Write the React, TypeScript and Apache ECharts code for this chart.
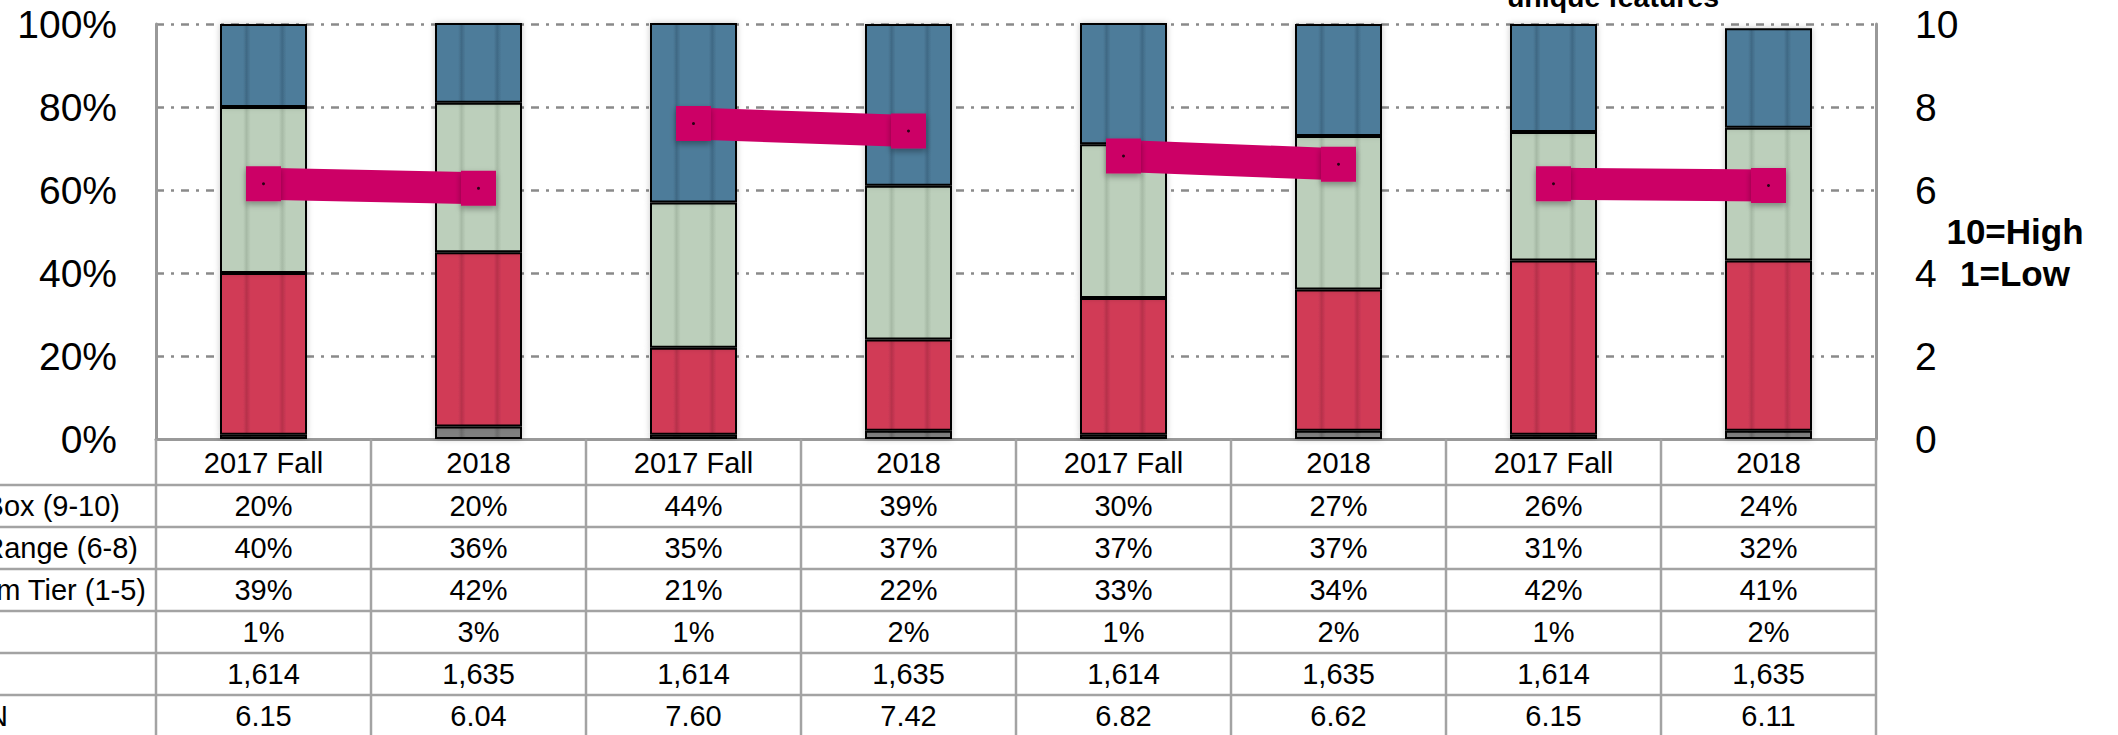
import React, { useEffect, useRef } from "react";
import * as echarts from "echarts";

// ---------- data ----------
const categories = ["2017 Fall", "2018", "2017 Fall", "2018", "2017 Fall", "2018", "2017 Fall", "2018"];
const boxTop = [20, 20, 44, 39, 30, 27, 26, 24];
const midRange = [40, 36, 35, 37, 37, 37, 31, 32];
const bottomTier = [39, 42, 21, 22, 33, 34, 42, 41];
const dontKnow = [1, 3, 1, 2, 1, 2, 1, 2];
const sampleN = [1614, 1635, 1614, 1635, 1614, 1635, 1614, 1635];
const meanScore = [6.15, 6.04, 7.6, 7.42, 6.82, 6.62, 6.15, 6.11];
const rowLabels = ["Box (9-10)", "Range (6-8)", "m Tier (1-5)", "", "", "N"];
const leftTicks = { min: 0, max: 100, step: 20 };
const rightTicks = { min: 0, max: 10, step: 2 };
const scaleNotes = ["10=High", "1=Low"];
const titleTail = "unique features";

// ---------- layout ----------
const W = 2118;
const H = 735;
const GRID_LEFT = 156;
const GRID_RIGHT_X = 1876;
const GRID_TOP = 24;
const GRID_BOTTOM_Y = 439;
const HEADER_BOTTOM = 485;
const ROW_H = 42;
const LABEL_RIGHT = [120, 138, 146, 0, 0, 8];
const FONT = "'Liberation Sans', Arial, Helvetica, sans-serif";
const TABLE_LINE = "#a3a3a3";

function striped(base: string, dark: string) {
  return new echarts.graphic.LinearGradient(0, 0, 1, 0, [
    { offset: 0, color: base },
    { offset: 0.26, color: base },
    { offset: 0.3, color: dark },
    { offset: 0.35, color: base },
    { offset: 0.68, color: base },
    { offset: 0.72, color: dark },
    { offset: 0.77, color: base },
    { offset: 1, color: base },
  ]);
}

function barSeries(name: string, data: number[], base: string, dark: string) {
  return {
    name,
    type: "bar",
    stack: "total",
    barWidth: 87,
    data,
    clip: true,
    itemStyle: {
      color: striped(base, dark),
      borderColor: "#000",
      borderWidth: 2,
      shadowBlur: 6,
      shadowColor: "rgba(0,0,0,0.22)",
    },
    z: 2,
  };
}

export default function App() {
  const ref = useRef<HTMLDivElement>(null);

  useEffect(() => {
    document.body.style.margin = "0";
    if (!ref.current) return;
    const chart = echarts.init(ref.current, null, { renderer: "svg" });

    const nCols = categories.length;
    const colW = (GRID_RIGHT_X - GRID_LEFT) / nCols;
    const colX = (i: number) => GRID_LEFT + i * colW;

    const pct = (v: number) => `${v}%`;
    const rows: string[][] = [
      boxTop.map(pct),
      midRange.map(pct),
      bottomTier.map(pct),
      dontKnow.map(pct),
      sampleN.map((v) => v.toLocaleString("en-US")),
      meanScore.map((v) => v.toFixed(2)),
    ];

    const graphics: any[] = [];
    for (let r = 0; r < rows.length; r++) {
      const y = HEADER_BOTTOM + r * ROW_H;
      graphics.push({
        type: "line",
        shape: { x1: 0, y1: y, x2: GRID_RIGHT_X, y2: y },
        style: { stroke: TABLE_LINE, lineWidth: 2.5 },
        z: 10,
      });
    }
    for (let i = 0; i <= nCols; i++) {
      graphics.push({
        type: "line",
        shape: { x1: colX(i), y1: GRID_BOTTOM_Y, x2: colX(i), y2: H },
        style: { stroke: TABLE_LINE, lineWidth: 2.5 },
        z: 10,
      });
    }
    rows.forEach((vals, r) => {
      const cy = HEADER_BOTTOM + r * ROW_H + ROW_H / 2;
      vals.forEach((t, i) => {
        graphics.push({
          type: "text",
          x: colX(i) + colW / 2,
          y: cy,
          style: { text: t, fill: "#000", font: `29px ${FONT}`, align: "center", verticalAlign: "middle" },
          z: 11,
        });
      });
      if (rowLabels[r]) {
        graphics.push({
          type: "text",
          x: LABEL_RIGHT[r],
          y: cy,
          style: { text: rowLabels[r], fill: "#000", font: `29px ${FONT}`, align: "right", verticalAlign: "middle" },
          z: 11,
        });
      }
    });
    graphics.push({
      type: "text",
      x: 2015,
      y: 231,
      style: { text: scaleNotes[0], fill: "#000", font: `bold 35px ${FONT}`, align: "center", verticalAlign: "middle" },
    });
    graphics.push({
      type: "text",
      x: 2015,
      y: 273,
      style: { text: scaleNotes[1], fill: "#000", font: `bold 35px ${FONT}`, align: "center", verticalAlign: "middle" },
    });
    graphics.push({
      type: "text",
      x: 1613,
      y: -3,
      style: { text: titleTail, fill: "#000", font: `bold 28.5px ${FONT}`, align: "center", verticalAlign: "middle" },
    });

    const lineSeries: any[] = [];
    for (let g = 0; g < nCols / 2; g++) {
      lineSeries.push({
        type: "line",
        yAxisIndex: 1,
        data: [
          [2 * g, meanScore[2 * g]],
          [2 * g + 1, meanScore[2 * g + 1]],
        ],
        symbol: "rect",
        symbolSize: 35,
        lineStyle: { color: "#CC0066", width: 32, cap: "butt" },
        itemStyle: {
          color: "#CC0066",
          shadowBlur: 6,
          shadowOffsetY: 3,
          shadowColor: "rgba(0,0,0,0.35)",
        },
        z: 4,
      });
    }

    chart.setOption({
      animation: false,
      backgroundColor: "#fff",
      textStyle: { fontFamily: FONT },
      grid: {
        left: GRID_LEFT,
        right: W - GRID_RIGHT_X,
        top: GRID_TOP,
        bottom: H - GRID_BOTTOM_Y,
        containLabel: false,
        outerBoundsMode: "none",
      },
      xAxis: {
        type: "category",
        data: categories,
        axisLine: { show: true, lineStyle: { color: "#999", width: 3 } },
        axisTick: { show: false },
        axisLabel: {
          color: "#000",
          fontSize: 29,
          fontFamily: FONT,
          margin: 24,
          verticalAlign: "middle",
          interval: 0,
        },
        splitLine: { show: false },
      },
      yAxis: [
        {
          type: "value",
          min: leftTicks.min,
          max: leftTicks.max,
          interval: leftTicks.step,
          axisLine: { show: true, lineStyle: { color: "#999", width: 3 } },
          axisTick: { show: false },
          axisLabel: { formatter: "{value}%", color: "#000", fontSize: 39, fontFamily: FONT, margin: 39 },
          splitLine: {
            show: true,
            lineStyle: { color: "#8a8a8a", width: 2.5, type: [8, 7, 3, 7] },
          },
        },
        {
          type: "value",
          position: "right",
          min: rightTicks.min,
          max: rightTicks.max,
          interval: rightTicks.step,
          axisLine: { show: true, lineStyle: { color: "#999", width: 3 } },
          axisTick: { show: false },
          axisLabel: { color: "#000", fontSize: 39, fontFamily: FONT, margin: 39 },
          splitLine: { show: false },
        },
      ],
      series: [
        barSeries("Don't know", dontKnow, "#808080", "#6d6d6d"),
        barSeries("Bottom Tier (1-5)", bottomTier, "#D13B57", "#B7314B"),
        barSeries("Competitive Range (6-8)", midRange, "#BCCFBB", "#A7BAA6"),
        barSeries("Out of the Box (9-10)", boxTop, "#4E7C9A", "#3F6985"),
        ...lineSeries,
        {
          type: "scatter",
          yAxisIndex: 1,
          data: meanScore,
          symbol: "circle",
          symbolSize: 3,
          itemStyle: { color: "#000" },
          z: 6,
          silent: true,
        },
      ],
      graphic: graphics,
    });

    return () => chart.dispose();
  }, []);

  return <div ref={ref} style={{ width: W, height: H }} />;
}
